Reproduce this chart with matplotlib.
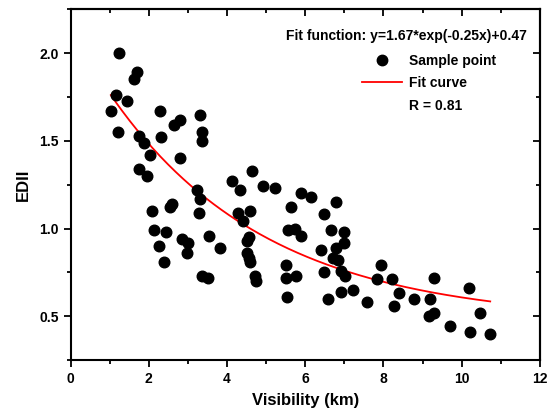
import numpy as np
import matplotlib
matplotlib.use("Agg")
import matplotlib.pyplot as plt
from matplotlib.lines import Line2D
from matplotlib.ticker import MultipleLocator

plt.rcParams['font.family'] = ['Liberation Sans', 'DejaVu Sans']
plt.rcParams['font.weight'] = 'bold'

# Sample points (visibility km, EDII)
vis = [1.24, 1.69, 1.62, 1.16, 1.44, 1.03, 2.28, 2.80, 2.65, 3.30,
       1.22, 1.75, 1.89, 2.32, 3.36, 3.36, 2.02, 2.79, 1.75, 1.95,
       3.24, 3.31, 3.29, 2.08, 2.54, 2.60, 2.14, 2.44, 2.27, 2.40,
       2.86, 2.99, 2.98, 3.54, 3.82, 3.37, 3.51, 4.14, 4.34, 4.63,
       4.27, 4.59, 4.40, 4.57, 4.52, 4.52, 4.57, 4.59, 4.72, 4.75,
       4.93, 5.23, 5.89, 6.14, 5.63, 6.78, 6.47, 5.57, 5.74, 5.90,
       6.66, 6.98, 6.99, 6.41, 6.78, 6.72, 6.85, 5.50, 5.50, 5.76,
       6.47, 6.91, 7.02, 7.83, 7.94, 8.21, 8.40, 5.53, 6.59, 6.92,
       7.23, 7.58, 8.27, 8.78, 9.18, 9.30, 9.17, 9.30, 10.20, 9.71,
       10.22, 10.47, 10.73]
edii = [2.00, 1.89, 1.85, 1.76, 1.73, 1.67, 1.67, 1.62, 1.59, 1.65,
        1.55, 1.53, 1.49, 1.52, 1.55, 1.50, 1.42, 1.40, 1.34, 1.30,
        1.22, 1.17, 1.09, 1.10, 1.12, 1.14, 0.99, 0.98, 0.90, 0.81,
        0.94, 0.92, 0.86, 0.96, 0.89, 0.73, 0.72, 1.27, 1.22, 1.33,
        1.09, 1.10, 1.04, 0.95, 0.93, 0.86, 0.83, 0.81, 0.73, 0.70,
        1.24, 1.23, 1.20, 1.18, 1.12, 1.15, 1.08, 0.99, 1.00, 0.96,
        0.99, 0.98, 0.92, 0.88, 0.89, 0.83, 0.82, 0.79, 0.72, 0.73,
        0.75, 0.76, 0.73, 0.71, 0.79, 0.71, 0.63, 0.61, 0.60, 0.64,
        0.65, 0.58, 0.56, 0.60, 0.60, 0.72, 0.50, 0.52, 0.66, 0.445,
        0.41, 0.52, 0.40]

# Fit parameters (from chart annotation)
fit_a, fit_b, fit_c = 1.67, -0.25, 0.47
fit_range = (1.03, 10.73)

x_ticks = [0, 2, 4, 6, 8, 10, 12]
y_ticks = [0.5, 1.0, 1.5, 2.0]

fig = plt.figure(figsize=(5.47, 4.15), dpi=100)
ax = fig.add_axes([0.129, 0.1325, 0.858, 0.845])

ax.scatter(vis, edii, s=58, color='black', zorder=3, label='Sample point')
xf = np.linspace(fit_range[0], fit_range[1], 200)
line, = ax.plot(xf, fit_a * np.exp(fit_b * xf) + fit_c, color='red', lw=1.3, label='Fit curve')

ax.set_xlim(0, 12)
ax.set_ylim(0.25, 2.25)
ax.set_xticks(x_ticks)
ax.set_yticks(y_ticks)
ax.set_yticklabels([f'{v:.1f}' for v in y_ticks])
ax.xaxis.set_minor_locator(MultipleLocator(1))
ax.yaxis.set_minor_locator(MultipleLocator(0.25))
ax.tick_params(which='major', direction='out', length=5, width=1.3, labelsize=10)
ax.tick_params(which='minor', direction='out', length=3, width=1.3)
for lab in ax.get_xticklabels() + ax.get_yticklabels():
    lab.set_fontweight('bold')

for s in ax.spines.values():
    s.set_linewidth(1.5)

top = ax.secondary_xaxis('top')
top.set_xticks(x_ticks)
top.xaxis.set_minor_locator(MultipleLocator(1))
top.tick_params(which='major', direction='in', length=5, width=1.3, labeltop=False)
top.tick_params(which='minor', direction='in', length=3, width=1.3)
right = ax.secondary_yaxis('right')
right.set_yticks(y_ticks)
right.yaxis.set_minor_locator(MultipleLocator(0.25))
right.tick_params(which='major', direction='in', length=5, width=1.3, labelright=False)
right.tick_params(which='minor', direction='in', length=3, width=1.3)
for sa in (top, right):
    for s in sa.spines.values():
        s.set_linewidth(1.5)

ax.set_xlabel('Visibility (km)', fontsize=12, fontweight='bold', labelpad=5)
ax.set_ylabel('EDII', fontsize=12, fontweight='bold', labelpad=6)

ax.text(0.972, 0.925, f'Fit function: y={fit_a}*exp({fit_b}x)+{fit_c}',
        transform=ax.transAxes, ha='right', va='center', fontsize=10, fontweight='bold')

dot = Line2D([], [], marker='o', color='black', linestyle='none', markersize=7.5)
blank = Line2D([], [], linestyle='none')
leg = ax.legend([dot, line, blank], ['Sample point', 'Fit curve', 'R = 0.81'],
                loc='upper left', bbox_to_anchor=(0.62, 0.874), frameon=False,
                prop={'size': 10, 'weight': 'bold'}, handlelength=2.9,
                handletextpad=0.5, labelspacing=0.62, borderpad=0, borderaxespad=0)

fig.savefig('out.png', dpi=100)
